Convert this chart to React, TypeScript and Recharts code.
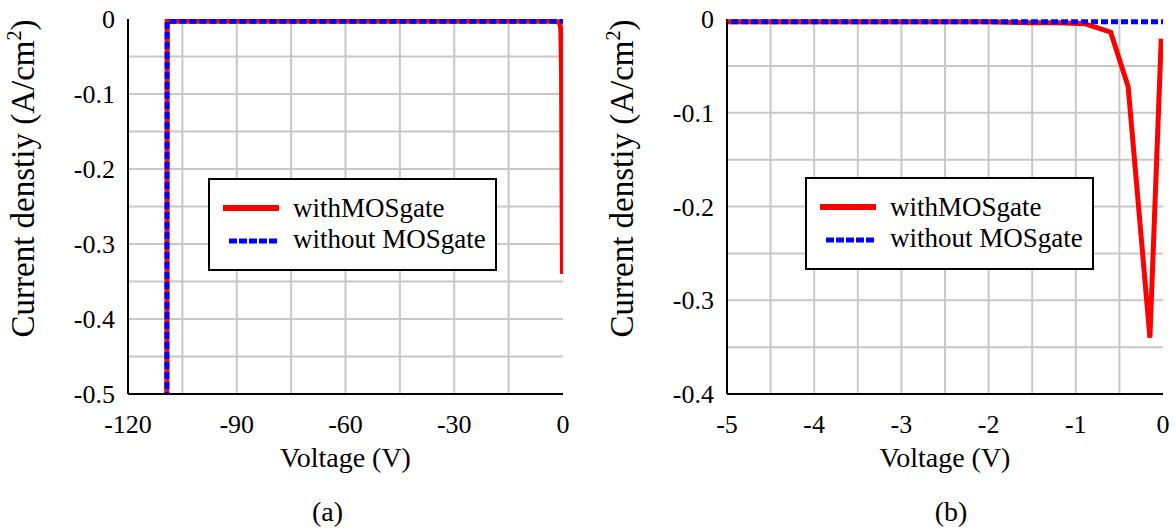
import React from 'react';
import { LineChart, Line, XAxis, YAxis, CartesianGrid } from 'recharts';

// Voltage (V) sample points shared by both series
const voltage = [-109.3, -109.2, -100, -90, -80, -70, -60, -50, -40, -30, -20, -10, -5, -4, -3, -2, -1.5, -1.2, -0.9, -0.6, -0.4, -0.15, -0.02, 0];
// Current density (A/cm^2)
const withMOSgate = [-0.6, -0.003, -0.003, -0.003, -0.003, -0.003, -0.003, -0.003, -0.003, -0.003, -0.003, -0.003, -0.003, -0.003, -0.003, -0.003, -0.004, -0.004, -0.005, -0.014, -0.072, -0.34, -0.021, null];
const withoutMOSgate = [-0.6, -0.003, -0.003, -0.003, -0.003, -0.003, -0.003, -0.003, -0.003, -0.003, -0.003, -0.003, -0.003, -0.003, -0.003, -0.003, -0.003, -0.003, -0.003, -0.003, -0.003, -0.003, -0.003, -0.003];

const seriesNames = ['withMOSgate', 'without MOSgate'];

// panel (a)
const xTicksA = [-120, -90, -60, -30, 0];
const yTicksA = [-0.5, -0.4, -0.3, -0.2, -0.1, 0];
const gridXA = [-105, -90, -75, -60, -45, -30, -15];
const gridYA = [-0.45, -0.4, -0.35, -0.3, -0.25, -0.2, -0.15, -0.1, -0.05];
// panel (b)
const xTicksB = [-5, -4, -3, -2, -1, 0];
const yTicksB = [-0.4, -0.3, -0.2, -0.1, 0];
const gridXB = [-4.5, -4, -3.5, -3, -2.5, -2, -1.5, -1, -0.5];
const gridYB = [-0.35, -0.3, -0.25, -0.2, -0.15, -0.1, -0.05];

const data = voltage.map((v, i) => ({ v, a: withMOSgate[i], b: withoutMOSgate[i] }));

const FONT = 'Liberation Serif';
const tickStyle = { fill: '#000', fontSize: 26, fontFamily: FONT };
const axisLine = { stroke: '#000', strokeWidth: 2 };

const yLabel = (props: any) => {
  const vb = props.viewBox;
  const x = vb.x + vb.width - 94;
  const y = vb.y + vb.height / 2 - 28;
  return (
    <text x={x} y={y} transform={`rotate(-90 ${x} ${y})`} textAnchor="middle" fontSize={33} fontFamily={FONT} fill="#000">
      Current denstiy (A/cm<tspan dy={-13} fontSize={20}>2</tspan><tspan dy={13}>)</tspan>
    </text>
  );
};

const makeXLabel = (tag: string, shift: number) => (props: any) => {
  const vb = props.viewBox;
  const cx = vb.x + vb.width / 2;
  return (
    <g>
      <text x={cx} y={vb.y + 73} textAnchor="middle" fontSize={28} fontFamily={FONT} fill="#000">Voltage (V)</text>
      <text x={cx + shift} y={vb.y + 127} textAnchor="middle" fontSize={28} fontFamily={FONT} fill="#000">{tag}</text>
    </g>
  );
};

const LegendBox = ({ left, top }: { left: number; top: number }) => (
  <svg width={289} height={93} style={{ position: 'absolute', left, top }}>
    <rect x={1} y={1} width={287} height={91} fill="#fff" stroke="#000" strokeWidth={2} />
    <line x1={15} x2={71} y1={30} y2={30} stroke="#ff0000" strokeWidth={6} />
    <text x={85} y={39} fontSize={27} fontFamily={FONT} fill="#000">{seriesNames[0]}</text>
    <line x1={21} x2={71} y1={63} y2={63} stroke="#0000ff" strokeWidth={5} strokeDasharray="8 2" />
    <text x={85} y={70} fontSize={27} fontFamily={FONT} fill="#000">{seriesNames[1]}</text>
  </svg>
);

type PanelProps = {
  width: number;
  rightMargin: number;
  yAxisWidth: number;
  xDomain: [number, number];
  yDomain: [number, number];
  xTicks: number[];
  yTicks: number[];
  gridX: number[];
  gridY: number[];
  tag: string;
  tagShift: number;
};

const Panel = (p: PanelProps) => (
  <LineChart width={p.width} height={532} data={data} margin={{ top: 19, right: p.rightMargin, bottom: 0, left: 0 }}>
    <CartesianGrid stroke="#c8c8c8" strokeWidth={2} verticalValues={p.gridX} horizontalValues={p.gridY} />
    <XAxis
      dataKey="v"
      type="number"
      domain={p.xDomain}
      ticks={p.xTicks}
      allowDataOverflow
      height={138}
      tickLine={false}
      tickSize={0}
      tickMargin={21}
      axisLine={axisLine}
      tick={tickStyle}
      interval={0}
      label={makeXLabel(p.tag, p.tagShift)}
    />
    <XAxis xAxisId="top" orientation="top" type="number" domain={p.xDomain} allowDataOverflow height={0} tick={false} tickLine={false} axisLine={axisLine} />
    <YAxis
      type="number"
      domain={p.yDomain}
      ticks={p.yTicks}
      allowDataOverflow
      width={p.yAxisWidth}
      tickLine={false}
      tickSize={0}
      tickMargin={13}
      axisLine={axisLine}
      tick={tickStyle}
      interval={0}
      label={yLabel}
    />
    <YAxis yAxisId="right" orientation="right" type="number" domain={p.yDomain} allowDataOverflow width={0} tick={false} tickLine={false} axisLine={axisLine} />
    <Line type="linear" dataKey="a" name={seriesNames[0]} stroke="#ff0000" strokeWidth={5} dot={false} activeDot={false} isAnimationActive={false} />
    <Line type="linear" dataKey="b" name={seriesNames[1]} stroke="#0000ff" strokeWidth={5} strokeDasharray="7 3" dot={false} activeDot={false} isAnimationActive={false} />
  </LineChart>
);

export default function App() {
  return (
    <div style={{ position: 'absolute', left: 0, top: 0, width: 1176, height: 532, background: '#fff', overflow: 'hidden', fontFamily: FONT }}>
      <div style={{ position: 'absolute', left: 0, top: 0 }}>
        <Panel width={600} rightMargin={37} yAxisWidth={128} xDomain={[-120, 0]} yDomain={[-0.5, 0]} xTicks={xTicksA} yTicks={yTicksA} gridX={gridXA} gridY={gridYA} tag="(a)" tagShift={-18} />
      </div>
      <div style={{ position: 'absolute', left: 600, top: 0 }}>
        <Panel width={576} rightMargin={13} yAxisWidth={127} xDomain={[-5, 0]} yDomain={[-0.4, 0]} xTicks={xTicksB} yTicks={yTicksB} gridX={gridXB} gridY={gridYB} tag="(b)" tagShift={6} />
      </div>
      <LegendBox left={208} top={178} />
      <LegendBox left={805} top={177} />
    </div>
  );
}
